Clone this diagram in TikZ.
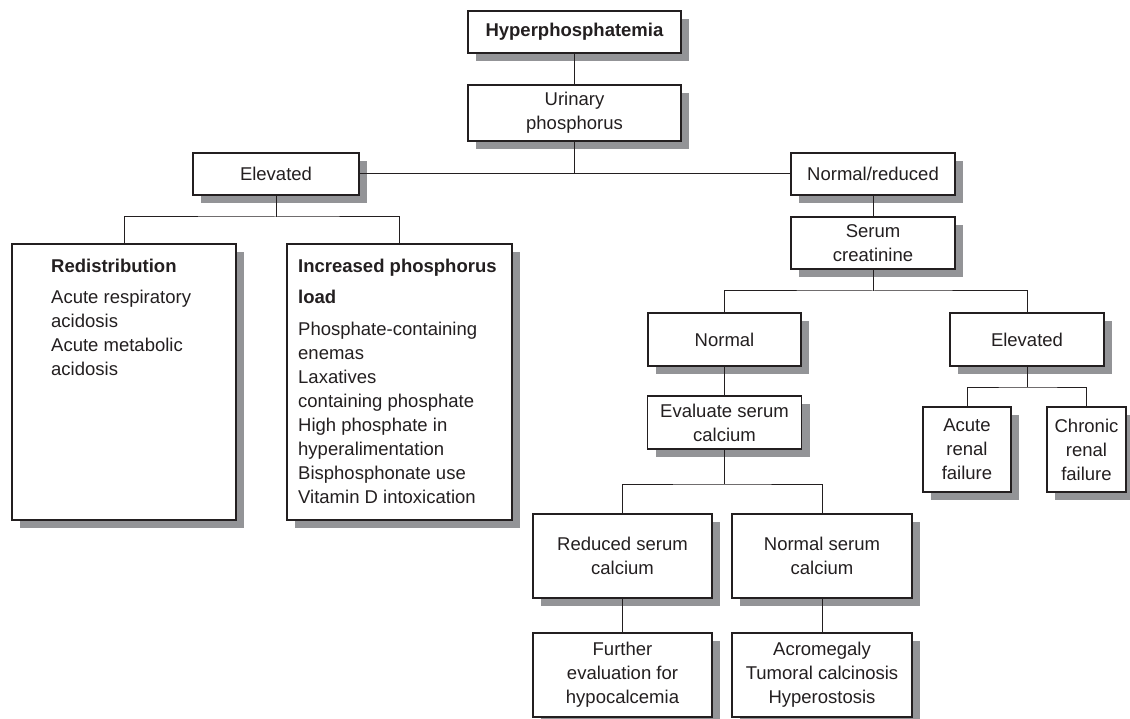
\documentclass[tikz,border=0pt]{standalone}
\usepackage{fontspec}
\setmainfont{Liberation Sans}
\usetikzlibrary{shadows}
\definecolor{ink}{RGB}{35,31,32}
\definecolor{shadowgray}{RGB}{147,148,151}
\tikzset{
  box/.style={draw=ink, line width=1.2pt, fill=white, inner sep=0pt,
    align=center, text=ink,
    font=\fontsize{18.5}{24}\selectfont,
    drop shadow={shadow xshift=8pt, shadow yshift=-8pt, fill=shadowgray, opacity=1}},
  listtext/.style={anchor=north west, inner sep=0pt, align=left, text=ink,
    font=\fontsize{18.5}{24}\selectfont},
  conn/.style={draw=ink, line width=1pt}
}
\begin{document}
\begin{tikzpicture}[x=1pt,y=-1pt]
\useasboundingbox (0,0) rectangle (1130,719);

% top
\node[box, minimum width=213, minimum height=42] (hyper) at (574.5,32) {\textbf{Hyperphosphatemia}};
\node[box, minimum width=213, minimum height=56] (urin) at (574.5,113) {Urinary\\phosphorus};

% level 2
\node[box, minimum width=166, minimum height=42] (elev) at (276,174) {Elevated};
\node[box, minimum width=164, minimum height=42] (normred) at (873,174) {Normal/reduced};

% left big boxes
\node[box, minimum width=224, minimum height=276] (redis) at (124,382) {};
\node[box, minimum width=225, minimum height=276] (incr) at (399.5,382) {};
\node[listtext] (redistext) at (51,258.8) {\textbf{Redistribution}\\[7pt]Acute respiratory\\acidosis\\Acute metabolic\\acidosis};
\node[listtext] (incrtext) at (298,258.8) {\textbf{Increased phosphorus}\\[7pt]\textbf{load}\\[8pt]Phosphate-containing\\enemas\\Laxatives\\containing phosphate\\High phosphate in\\hyperalimentation\\Bisphosphonate use\\Vitamin D intoxication};

% right side
\node[box, minimum width=164, minimum height=52] (serum) at (873,243) {Serum\\creatinine};
\node[box, minimum width=153, minimum height=53] (norm) at (724.5,339.5) {Normal};
\node[box, minimum width=154, minimum height=53] (elev2) at (1027,339.5) {Elevated};
\node[box, minimum width=154, minimum height=53] (eval) at (724.5,422.5) {Evaluate serum\\calcium};
\node[box, minimum width=88, minimum height=85] (acute) at (967,449.5) {Acute\\renal\\failure};
\node[box, minimum width=79, minimum height=85] (chronic) at (1086.5,449.5) {Chronic\\renal\\failure};
\node[box, minimum width=179, minimum height=84] (reduced) at (622.5,556) {Reduced serum\\calcium};
\node[box, minimum width=180, minimum height=84] (normca) at (822,556) {Normal serum\\calcium};
\node[box, minimum width=179, minimum height=84] (further) at (622.5,675) {Further\\evaluation for\\hypocalcemia};
\node[box, minimum width=180, minimum height=84] (acro) at (822,675) {Acromegaly\\Tumoral calcinosis\\Hyperostosis};

% junctions
\coordinate (j1) at (276,217);
\coordinate (j2) at (873,291);
\coordinate (j3) at (1029,387);
\coordinate (j4) at (722,484);

% connectors
\draw[conn] (hyper.south) -- (urin.north);
\draw[conn] (urin.south) -- (urin.south |- elev.east);
\draw[conn] (elev.east) -- (normred.west);
\draw[conn] (elev.south) -- (j1);
\draw[conn] (redis.north) |- (j1) -| (incr.north);
\draw[conn] (normred.south) -- (serum.north);
\draw[conn] (serum.south) -- (j2);
\draw[conn] (norm.north) |- (j2) -| (elev2.north);
\draw[conn] (norm.south) -- (eval.north);
\draw[conn] (elev2.south) -- (elev2.south |- j3);
\draw[conn] (acute.north) |- (j3) -| (chronic.north);
\draw[conn] (eval.south) -- (eval.south |- j4);
\draw[conn] (reduced.north) |- (j4) -| (normca.north);
\draw[conn] (reduced.south) -- (further.north);
\draw[conn] (normca.south) -- (acro.north);
\end{tikzpicture}
\end{document}
